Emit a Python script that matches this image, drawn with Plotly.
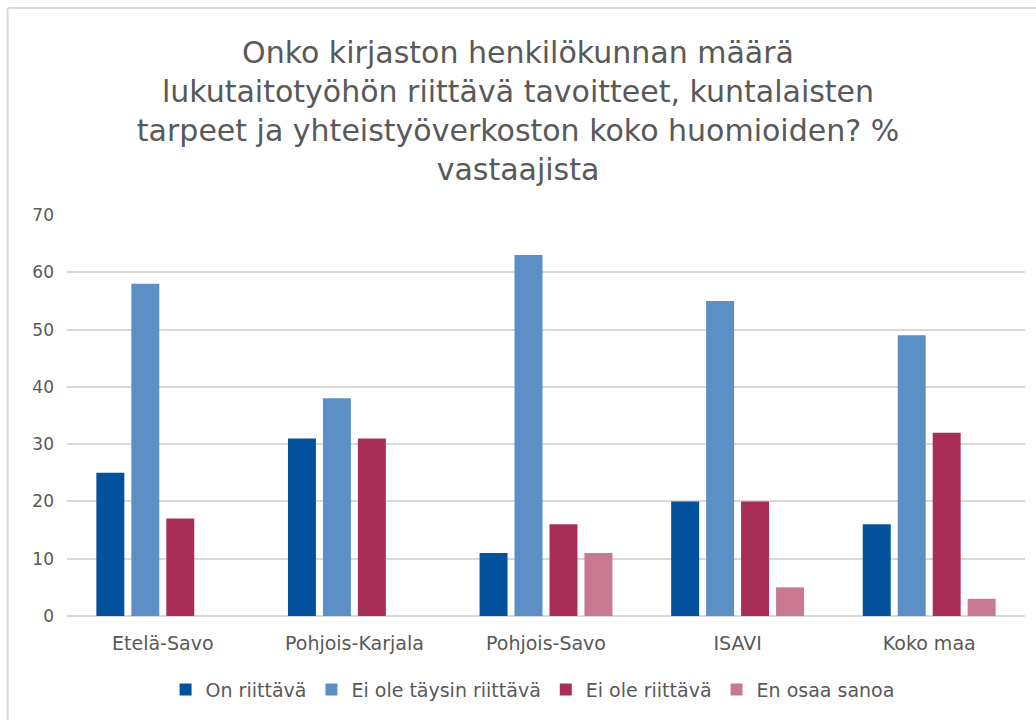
import plotly.graph_objects as go

categories = ["Etelä-Savo", "Pohjois-Karjala", "Pohjois-Savo", "ISAVI", "Koko maa"]
on_riittava = [25, 31, 11, 20, 16]
ei_taysin = [58, 38, 63, 55, 49]
ei_ole = [17, 31, 16, 20, 32]
en_osaa = [None, None, 11, 5, 3]

series_names = ["On riittävä", "Ei ole täysin riittävä", "Ei ole riittävä", "En osaa sanoa"]
series_values = [on_riittava, ei_taysin, ei_ole, en_osaa]
colors = ["#03529E", "#5B8FC5", "#A82E58", "#C87890"]

title_text = ("Onko kirjaston henkilökunnan määrä<br>lukutaitotyöhön riittävä tavoitteet, kuntalaisten"
              "<br>tarpeet ja yhteistyöverkoston koko huomioiden? %<br>vastaajista")

fig = go.Figure()
for name, vals, col in zip(series_names, series_values, colors):
    fig.add_trace(go.Bar(x=categories, y=vals, name=name, marker=dict(color=col, line=dict(width=0))))

font_family = "DejaVu Sans, Verdana, sans-serif"
fig.update_layout(
    width=1036, height=720,
    barmode="group", bargap=0.27, bargroupgap=0.2,
    paper_bgcolor="white", plot_bgcolor="white",
    margin=dict(l=67, r=11, t=215, b=104, autoexpand=False),
    title=dict(text=title_text, x=0.5, xanchor="center", y=0.912, yanchor="top",
               font=dict(family=font_family, size=30, color="#595959")),
    font=dict(family=font_family, color="#595959"),
    xaxis=dict(showgrid=False, showline=False, ticks="", tickfont=dict(size=19, color="#595959"),
               ticklabelstandoff=14),
    yaxis=dict(range=[0, 70], dtick=10, showgrid=True, gridcolor="#D9D9D9", gridwidth=1.5,
               zeroline=True, zerolinecolor="#D9D9D9", zerolinewidth=1.5, showline=False,
               ticks="", tickfont=dict(size=17, color="#595959"), ticklabelstandoff=12),
    legend=dict(orientation="h", x=0.486, xanchor="center", yref="container", y=0.042,
                yanchor="middle", font=dict(size=19, color="#595959"), itemwidth=30,
                traceorder="normal"),
    showlegend=True,
)

# outer chart border (top and left visible in reference)
fig.add_shape(type="line", xref="paper", yref="paper", x0=-0.062, x1=1.02, y0=1.516, y1=1.516,
              line=dict(color="#D9D9D9", width=2))
fig.add_shape(type="line", xref="paper", yref="paper", x0=-0.062, x1=-0.062, y0=1.516, y1=-0.3,
              line=dict(color="#D9D9D9", width=2))

fig.write_html("out.html", config={"displayModeBar": False},
               post_script="document.body.style.margin='0';")
